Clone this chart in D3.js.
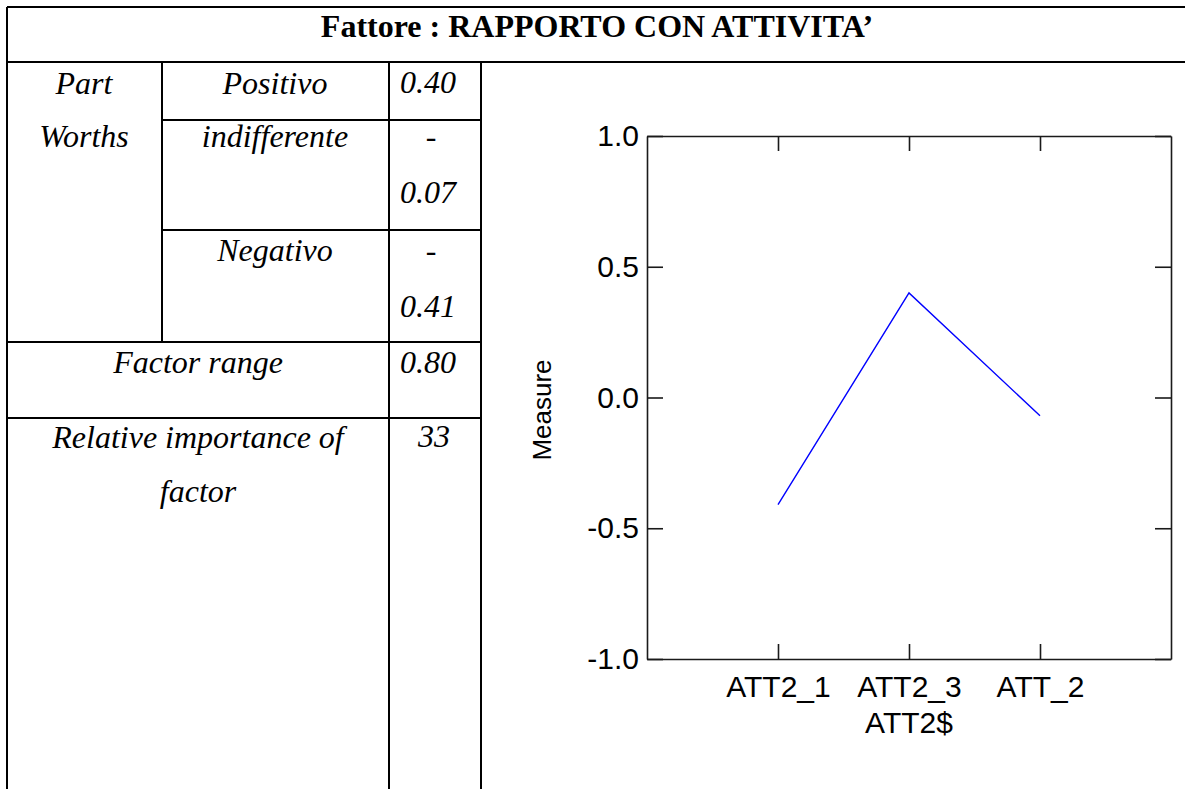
<!DOCTYPE html>
<html>
<head>
<meta charset="utf-8">
<script src="https://cdn.jsdelivr.net/npm/d3@7"></script>
<style>
	body { margin: 0; background: #fff; }
	.cell { font-family: "Liberation Serif", "Times New Roman", serif; font-style: italic; font-size: 32px; fill: #000; }
	.head { font-family: "Liberation Serif", "Times New Roman", serif; font-weight: bold; font-size: 32px; fill: #000; }
	.grid { stroke: #000; stroke-width: 2; }
	.axis path, .axis line { stroke: #1a1a1a; stroke-width: 1.6; }
	.axis text { font-family: "Liberation Sans", Arial, sans-serif; font-size: 30px; fill: #000; }
</style>
</head>
<body>
<svg id="page" width="1185" height="789"></svg>
<script>

var headerText = "Fattore : RAPPORTO CON ATTIVITA\u2019";
var partTitle = ["Part", "Worths"];
var levelLabels = ["Positivo", "indifferente", "Negativo"];
var partWorths = [0.40, -0.07, -0.41];
var rangeLabel = "Factor range";
var factorRange = 0.80;
var importanceLabel = ["Relative importance of", "factor"];
var relImportance = 33;

var categories = ["ATT2_1", "ATT2_3", "ATT_2"];
var measures = [-0.41, 0.40, -0.07];
var yTicks = [-1.0, -0.5, 0.0, 0.5, 1.0];
var xTitle = "ATT2$";
var yTitle = "Measure";

function drawTable()
{
	var svg = d3.select("#page");

	// table rules
	var hLines = [[7, 1186, 7], [7, 1186, 62], [162, 481, 120], [162, 481, 230], [7, 481, 342], [7, 481, 418]];
	var vLines = [[7, 7, 789], [162, 62, 342], [389, 62, 789], [481, 62, 789]];

	svg.selectAll(".hline")
		.data(hLines)
		.enter()
		.append("line")
		.attr("class", "grid")
		.attr("x1", function(d) { return d[0]; })
		.attr("x2", function(d) { return d[1]; })
		.attr("y1", function(d) { return d[2]; })
		.attr("y2", function(d) { return d[2]; });

	svg.selectAll(".vline")
		.data(vLines)
		.enter()
		.append("line")
		.attr("class", "grid")
		.attr("x1", function(d) { return d[0]; })
		.attr("x2", function(d) { return d[0]; })
		.attr("y1", function(d) { return d[1]; })
		.attr("y2", function(d) { return d[2]; });

	svg.append("text")
		.attr("class", "head")
		.attr("x", 597)
		.attr("y", 37)
		.attr("text-anchor", "middle")
		.text(headerText);

	var texts = [];
	texts.push({t: partTitle[0], x: 84, y: 94});
	texts.push({t: partTitle[1], x: 84, y: 147});

	var levelY = [94, 147, 261];
	levelLabels.forEach(function(d, i)
	{
		texts.push({t: d, x: 275, y: levelY[i]});
		var v = partWorths[i];
		if (v < 0) {
			texts.push({t: "-", x: 431, y: levelY[i]});
			texts.push({t: Math.abs(v).toFixed(2), x: 428, y: levelY[i] + 56});
		}
		else {
			texts.push({t: v.toFixed(2), x: 428, y: levelY[i] - 1});
		}
	});

	texts.push({t: rangeLabel, x: 198, y: 373});
	texts.push({t: factorRange.toFixed(2), x: 428, y: 373});
	texts.push({t: importanceLabel[0], x: 198, y: 448});
	texts.push({t: importanceLabel[1], x: 198, y: 502});
	texts.push({t: String(relImportance), x: 434, y: 447});

	svg.selectAll(".cell")
		.data(texts)
		.enter()
		.append("text")
		.attr("class", "cell")
		.attr("x", function(d) { return d.x; })
		.attr("y", function(d) { return d.y; })
		.attr("text-anchor", "middle")
		.text(function(d) { return d.t; });
}

function drawChart()
{
	var svg = d3.select("#page");
	var left = 647, right = 1171, top = 136, bottom = 659;

	var x = d3.scalePoint()
		.domain(categories)
		.range([left, right])
		.padding(1);

	var y = d3.scaleLinear()
		.domain([-1, 1])
		.range([bottom, top]);

	var fmt = function(d) { return d.toFixed(1); };

	svg.append("g")
		.attr("class", "axis")
		.attr("transform", "translate(" + left + ",0)")
		.call(d3.axisLeft(y).tickValues(yTicks).tickFormat(fmt)
			.tickSizeInner(-16).tickSizeOuter(0).tickPadding(8));

	svg.append("g")
		.attr("class", "axis")
		.attr("transform", "translate(" + right + ",0)")
		.call(d3.axisRight(y).tickValues(yTicks).tickFormat("")
			.tickSizeInner(-16).tickSizeOuter(0));

	svg.append("g")
		.attr("class", "axis")
		.attr("transform", "translate(0," + top + ")")
		.call(d3.axisTop(x).tickFormat("")
			.tickSizeInner(-15).tickSizeOuter(0));

	svg.append("g")
		.attr("class", "axis")
		.attr("transform", "translate(0," + bottom + ")")
		.call(d3.axisBottom(x)
			.tickSizeInner(-15).tickSizeOuter(0).tickPadding(17));

	svg.selectAll(".axis").attr("font-family", null).attr("font-size", null);

	svg.append("text")
		.attr("x", (left + right) / 2)
		.attr("y", 733)
		.attr("text-anchor", "middle")
		.style("font-family", "'Liberation Sans', Arial, sans-serif")
		.style("font-size", "30px")
		.text(xTitle);

	svg.append("text")
		.attr("transform", "translate(551,410) rotate(-90)")
		.attr("text-anchor", "middle")
		.style("font-family", "'Liberation Sans', Arial, sans-serif")
		.style("font-size", "26px")
		.text(yTitle);

	var line = d3.line()
		.x(function(d, i) { return x(categories[i]); })
		.y(function(d) { return y(d); });

	svg.append("path")
		.datum(measures)
		.attr("d", line)
		.attr("fill", "none")
		.attr("stroke", "#0000ff")
		.attr("stroke-width", 1.4);
}

drawTable();
drawChart();

</script>
</body>
</html>
